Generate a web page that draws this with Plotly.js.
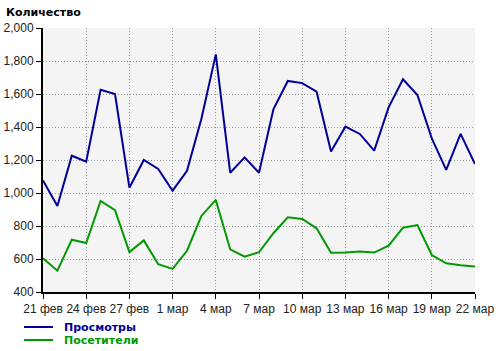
<!DOCTYPE html>
<html>
<head>
<meta charset="utf-8">
<script src="https://cdn.plot.ly/plotly-3.0.1.min.js"></script>
<style>
html,body{margin:0;padding:0;background:#fff;}
#chart{width:500px;height:351px;}
</style>
</head>
<body>
<div id="chart"></div>
<script>
const days = ['21 фев','22 фев','23 фев','24 фев','25 фев','26 фев','27 фев','28 фев','29 фев',
  '1 мар','2 мар','3 мар','4 мар','5 мар','6 мар','7 мар','8 мар','9 мар','10 мар','11 мар',
  '12 мар','13 мар','14 мар','15 мар','16 мар','17 мар','18 мар','19 мар','20 мар','21 мар','22 мар'];
const tickLabels = ['21 фев','24 фев','27 фев','1 мар','4 мар','7 мар','10 мар','13 мар','16 мар','19 мар','22 мар'];
const views = [1076, 921, 1226, 1190, 1626, 1600, 1032, 1200, 1146, 1014, 1135, 1450, 1840, 1123, 1216, 1123,
  1507, 1679, 1666, 1614, 1252, 1402, 1358, 1257, 1519, 1689, 1594, 1331, 1140, 1358, 1176];
const visitors = [605, 529, 717, 697, 952, 896, 642, 713, 568, 540, 650, 861, 958, 659, 614, 641,
  756, 853, 843, 786, 638, 639, 645, 639, 681, 790, 806, 624, 574, 562, 555];
const seriesNames = ['Просмотры', 'Посетители'];
const seriesColors = ['#000099', '#009900'];

const traces = [views, visitors].map((vals, i) => ({
  x: days, y: vals, type: 'scatter', mode: 'lines', name: seriesNames[i],
  line: {color: seriesColors[i], width: 2}, showlegend: false, hoverinfo: 'skip'
}));

const L = 43, R = 475, T = 28, B = 292;
const px = x => (x - L) / (R - L);
const py = y => (B - y) / (B - T);

const shapes = [];
const annotations = [{
  text: '<b>Количество</b>', xref: 'paper', yref: 'paper', x: px(4), y: py(12),
  xanchor: 'left', yanchor: 'middle', showarrow: false,
  font: {family: 'DejaVu Sans', size: 11, color: '#000'}
}];
const legendY = [327, 340];
seriesNames.forEach((n, i) => {
  shapes.push({type: 'line', xref: 'paper', yref: 'paper', x0: px(24), x1: px(53),
    y0: py(legendY[i]), y1: py(legendY[i]), line: {color: seriesColors[i], width: 2}});
  annotations.push({text: '<b>' + n + '</b>', xref: 'paper', yref: 'paper', x: px(62), y: py(legendY[i]),
    xanchor: 'left', yanchor: 'middle', showarrow: false,
    font: {family: 'DejaVu Sans', size: 11, color: seriesColors[i]}});
});

const layout = {
  width: 500, height: 351,
  margin: {l: L, r: 500 - R, t: T, b: 351 - B, pad: 0},
  paper_bgcolor: '#ffffff', plot_bgcolor: '#f4f4f4',
  font: {family: 'Liberation Sans, Arial', size: 12, color: '#222'},
  xaxis: {
    type: 'category', range: [0, days.length - 1],
    tickmode: 'array', tickvals: tickLabels, ticktext: tickLabels,
    showgrid: true, gridcolor: '#999', griddash: '1px,2px', gridwidth: 1,
    showline: true, linecolor: '#000', linewidth: 2,
    ticks: 'outside', ticklen: 5, tickcolor: '#000', tickwidth: 1,
    zeroline: false, fixedrange: true
  },
  yaxis: {
    range: [400, 2000], dtick: 200, tick0: 400, tickformat: ',d',
    showgrid: true, gridcolor: '#999', griddash: '1px,2px', gridwidth: 1,
    showline: true, linecolor: '#000', linewidth: 2,
    ticks: 'outside', ticklen: 5, tickcolor: '#000', tickwidth: 1,
    zeroline: false, fixedrange: true
  },
  shapes: shapes, annotations: annotations, showlegend: false
};

Plotly.newPlot('chart', traces, layout, {staticPlot: true, displayModeBar: false});
</script>
</body>
</html>
